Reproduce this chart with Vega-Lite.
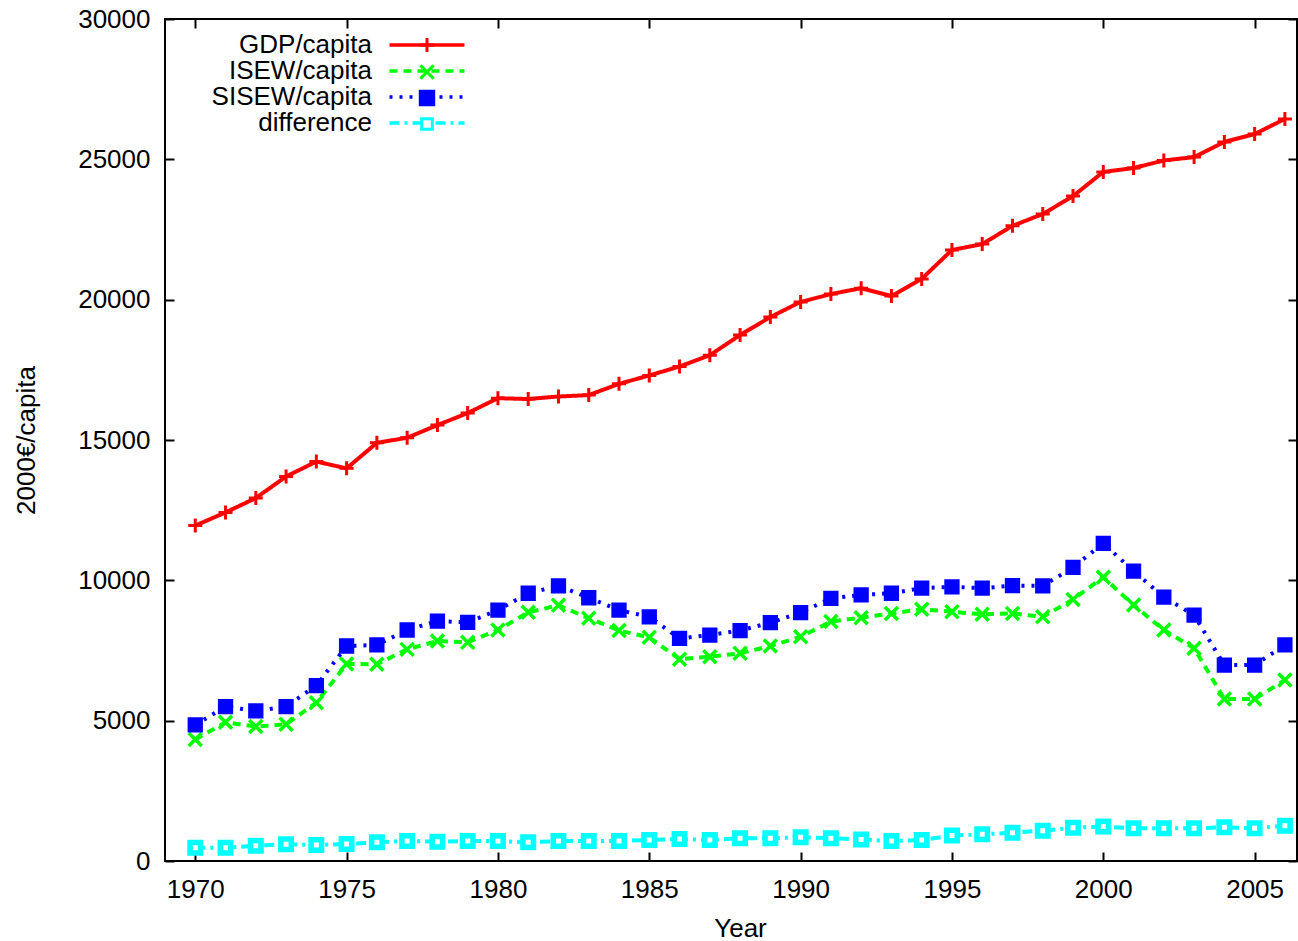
{
  "$schema": "https://vega.github.io/schema/vega-lite/v6.json",
  "width": 1132,
  "height": 842,
  "padding": {"left": 0, "top": 0, "right": 0, "bottom": 0},
  "autosize": {"type": "pad"},
  "background": "white",
  "config": {
    "font": "Liberation Sans",
    "view": {"stroke": "#000000", "strokeWidth": 2},
    "axis": {
      "domain": false, "grid": false,
      "tickColor": "#000000", "tickWidth": 2, "tickSize": -9,
      "labelFont": "Liberation Sans", "labelFontSize": 26, "labelColor": "#000000", "labelPadding": 24,
      "titleFont": "Liberation Sans", "titleFontSize": 26, "titleFontWeight": "normal", "titleColor": "#000000", "titlePadding": 0
    }
  },
  "data": {"values": [
    {"year":1970,"series":"GDP/capita","value":11950},{"year":1971,"series":"GDP/capita","value":12420},{"year":1972,"series":"GDP/capita","value":12930},{"year":1973,"series":"GDP/capita","value":13700},{"year":1974,"series":"GDP/capita","value":14230},{"year":1975,"series":"GDP/capita","value":13990},{"year":1976,"series":"GDP/capita","value":14900},{"year":1977,"series":"GDP/capita","value":15080},{"year":1978,"series":"GDP/capita","value":15530},{"year":1979,"series":"GDP/capita","value":15960},{"year":1980,"series":"GDP/capita","value":16490},{"year":1981,"series":"GDP/capita","value":16460},{"year":1982,"series":"GDP/capita","value":16550},{"year":1983,"series":"GDP/capita","value":16600},{"year":1984,"series":"GDP/capita","value":17000},{"year":1985,"series":"GDP/capita","value":17300},{"year":1986,"series":"GDP/capita","value":17620},{"year":1987,"series":"GDP/capita","value":18020},{"year":1988,"series":"GDP/capita","value":18740},{"year":1989,"series":"GDP/capita","value":19380},{"year":1990,"series":"GDP/capita","value":19920},{"year":1991,"series":"GDP/capita","value":20200},{"year":1992,"series":"GDP/capita","value":20410},{"year":1993,"series":"GDP/capita","value":20130},{"year":1994,"series":"GDP/capita","value":20740},{"year":1995,"series":"GDP/capita","value":21770},{"year":1996,"series":"GDP/capita","value":21980},{"year":1997,"series":"GDP/capita","value":22630},{"year":1998,"series":"GDP/capita","value":23050},{"year":1999,"series":"GDP/capita","value":23690},{"year":2000,"series":"GDP/capita","value":24550},{"year":2001,"series":"GDP/capita","value":24690},{"year":2002,"series":"GDP/capita","value":24960},{"year":2003,"series":"GDP/capita","value":25080},{"year":2004,"series":"GDP/capita","value":25620},{"year":2005,"series":"GDP/capita","value":25900},{"year":2006,"series":"GDP/capita","value":26440},
    {"year":1970,"series":"ISEW/capita","value":4330},{"year":1971,"series":"ISEW/capita","value":4940},{"year":1972,"series":"ISEW/capita","value":4790},{"year":1973,"series":"ISEW/capita","value":4870},{"year":1974,"series":"ISEW/capita","value":5640},{"year":1975,"series":"ISEW/capita","value":7020},{"year":1976,"series":"ISEW/capita","value":7010},{"year":1977,"series":"ISEW/capita","value":7540},{"year":1978,"series":"ISEW/capita","value":7840},{"year":1979,"series":"ISEW/capita","value":7790},{"year":1980,"series":"ISEW/capita","value":8230},{"year":1981,"series":"ISEW/capita","value":8860},{"year":1982,"series":"ISEW/capita","value":9110},{"year":1983,"series":"ISEW/capita","value":8650},{"year":1984,"series":"ISEW/capita","value":8210},{"year":1985,"series":"ISEW/capita","value":7970},{"year":1986,"series":"ISEW/capita","value":7190},{"year":1987,"series":"ISEW/capita","value":7280},{"year":1988,"series":"ISEW/capita","value":7400},{"year":1989,"series":"ISEW/capita","value":7660},{"year":1990,"series":"ISEW/capita","value":7990},{"year":1991,"series":"ISEW/capita","value":8530},{"year":1992,"series":"ISEW/capita","value":8670},{"year":1993,"series":"ISEW/capita","value":8820},{"year":1994,"series":"ISEW/capita","value":8970},{"year":1995,"series":"ISEW/capita","value":8880},{"year":1996,"series":"ISEW/capita","value":8790},{"year":1997,"series":"ISEW/capita","value":8820},{"year":1998,"series":"ISEW/capita","value":8700},{"year":1999,"series":"ISEW/capita","value":9320},{"year":2000,"series":"ISEW/capita","value":10110},{"year":2001,"series":"ISEW/capita","value":9120},{"year":2002,"series":"ISEW/capita","value":8230},{"year":2003,"series":"ISEW/capita","value":7580},{"year":2004,"series":"ISEW/capita","value":5770},{"year":2005,"series":"ISEW/capita","value":5770},{"year":2006,"series":"ISEW/capita","value":6450},
    {"year":1970,"series":"SISEW/capita","value":4850},{"year":1971,"series":"SISEW/capita","value":5500},{"year":1972,"series":"SISEW/capita","value":5350},{"year":1973,"series":"SISEW/capita","value":5500},{"year":1974,"series":"SISEW/capita","value":6250},{"year":1975,"series":"SISEW/capita","value":7660},{"year":1976,"series":"SISEW/capita","value":7700},{"year":1977,"series":"SISEW/capita","value":8230},{"year":1978,"series":"SISEW/capita","value":8550},{"year":1979,"series":"SISEW/capita","value":8500},{"year":1980,"series":"SISEW/capita","value":8940},{"year":1981,"series":"SISEW/capita","value":9540},{"year":1982,"series":"SISEW/capita","value":9800},{"year":1983,"series":"SISEW/capita","value":9380},{"year":1984,"series":"SISEW/capita","value":8940},{"year":1985,"series":"SISEW/capita","value":8700},{"year":1986,"series":"SISEW/capita","value":7930},{"year":1987,"series":"SISEW/capita","value":8050},{"year":1988,"series":"SISEW/capita","value":8210},{"year":1989,"series":"SISEW/capita","value":8490},{"year":1990,"series":"SISEW/capita","value":8850},{"year":1991,"series":"SISEW/capita","value":9360},{"year":1992,"series":"SISEW/capita","value":9480},{"year":1993,"series":"SISEW/capita","value":9540},{"year":1994,"series":"SISEW/capita","value":9720},{"year":1995,"series":"SISEW/capita","value":9770},{"year":1996,"series":"SISEW/capita","value":9720},{"year":1997,"series":"SISEW/capita","value":9810},{"year":1998,"series":"SISEW/capita","value":9800},{"year":1999,"series":"SISEW/capita","value":10460},{"year":2000,"series":"SISEW/capita","value":11320},{"year":2001,"series":"SISEW/capita","value":10330},{"year":2002,"series":"SISEW/capita","value":9400},{"year":2003,"series":"SISEW/capita","value":8760},{"year":2004,"series":"SISEW/capita","value":6980},{"year":2005,"series":"SISEW/capita","value":6980},{"year":2006,"series":"SISEW/capita","value":7700},
    {"year":1970,"series":"difference","value":475},{"year":1971,"series":"difference","value":475},{"year":1972,"series":"difference","value":545},{"year":1973,"series":"difference","value":595},{"year":1974,"series":"difference","value":570},{"year":1975,"series":"difference","value":605},{"year":1976,"series":"difference","value":665},{"year":1977,"series":"difference","value":710},{"year":1978,"series":"difference","value":690},{"year":1979,"series":"difference","value":710},{"year":1980,"series":"difference","value":710},{"year":1981,"series":"difference","value":665},{"year":1982,"series":"difference","value":710},{"year":1983,"series":"difference","value":710},{"year":1984,"series":"difference","value":710},{"year":1985,"series":"difference","value":750},{"year":1986,"series":"difference","value":785},{"year":1987,"series":"difference","value":750},{"year":1988,"series":"difference","value":810},{"year":1989,"series":"difference","value":810},{"year":1990,"series":"difference","value":845},{"year":1991,"series":"difference","value":810},{"year":1992,"series":"difference","value":770},{"year":1993,"series":"difference","value":710},{"year":1994,"series":"difference","value":750},{"year":1995,"series":"difference","value":905},{"year":1996,"series":"difference","value":950},{"year":1997,"series":"difference","value":1010},{"year":1998,"series":"difference","value":1080},{"year":1999,"series":"difference","value":1185},{"year":2000,"series":"difference","value":1225},{"year":2001,"series":"difference","value":1165},{"year":2002,"series":"difference","value":1165},{"year":2003,"series":"difference","value":1165},{"year":2004,"series":"difference","value":1200},{"year":2005,"series":"difference","value":1165},{"year":2006,"series":"difference","value":1260}
  ]},
  "layer": [
    {
      "mark": {"type": "line", "strokeWidth": 4},
      "encoding": {
        "x": {"field": "year", "type": "quantitative",
          "scale": {"domain": [1969, 2006.4], "nice": false, "zero": false},
          "axis": {"orient": "bottom", "values": [1970,1975,1980,1985,1990,1995,2000,2005], "format": "d",
            "title": "Year", "titleX": 575, "titleY": 75, "titleBaseline": "alphabetic", "titleAlign": "center",
            "minExtent": 80, "maxExtent": 80}},
        "y": {"field": "value", "type": "quantitative",
          "scale": {"domain": [0, 30000], "nice": false},
          "axis": {"orient": "left", "values": [0,5000,10000,15000,20000,25000,30000], "format": "d",
            "title": "2000€/capita", "titleX": -131, "titleY": 421, "titleAngle": -90, "titleBaseline": "alphabetic", "titleAlign": "center",
            "minExtent": 165, "maxExtent": 165}},
        "color": {"field": "series", "type": "nominal",
          "scale": {"domain": ["GDP/capita","ISEW/capita","SISEW/capita","difference"], "range": ["#ff0000","#00ff00","#0000ff","#00ffff"]},
          "legend": {"title": null, "orient": "none", "legendX": 249, "legendY": 13, "direction": "vertical", "padding": 0,
            "symbolType": "M-5,0H5", "symbolSize": 225, "symbolStrokeWidth": 3.5,
            "labelAlign": "right", "labelOffset": -68, "labelFontSize": 26, "labelFont": "Liberation Sans", "labelColor": "#000000", "labelLimit": 400, "rowPadding": 0}},
        "strokeDash": {"field": "series", "type": "nominal",
          "scale": {"domain": ["GDP/capita","ISEW/capita","SISEW/capita","difference"], "range": [[1,0],[8,6],[3,7],[10,5,3,5]]},
          "legend": {"title": null, "orient": "none", "legendX": 249, "legendY": 13, "direction": "vertical", "padding": 0,
            "symbolType": "M-5,0H5", "symbolSize": 225, "symbolStrokeWidth": 3.5,
            "labelAlign": "right", "labelOffset": -68, "labelFontSize": 26, "labelFont": "Liberation Sans", "labelColor": "#000000", "labelLimit": 400, "rowPadding": 0}}
      }
    },
    {
      "transform": [{"filter": "datum.series === 'GDP/capita'"}],
      "mark": {"type": "point", "size": 196, "strokeWidth": 3, "opacity": 1},
      "encoding": {
        "x": {"field": "year", "type": "quantitative",
          "axis": {"orient": "top", "values": [1970,1975,1980,1985,1990,1995,2000,2005], "labels": false, "title": null, "minExtent": 19, "maxExtent": 19}},
        "y": {"field": "value", "type": "quantitative",
          "axis": {"orient": "right", "values": [0,5000,10000,15000,20000,25000,30000], "labels": false, "title": null, "minExtent": 1, "maxExtent": 1}},
        "shape": {"field": "series", "type": "nominal",
          "scale": {"range": ["M-1,0H1M0,-1V1", "M-0.93,-0.93L0.93,0.93M-0.93,0.93L0.93,-0.93", "M-0.95,-0.95H0.95V0.95H-0.95Z", "M-0.75,-0.75H0.75V0.75H-0.75Z"]},
          "legend": {"title": null, "orient": "none", "legendX": 249, "legendY": 13, "direction": "vertical", "padding": 0,
            "symbolSize": 200, "symbolStrokeWidth": 3,
            "labelAlign": "right", "labelOffset": -68, "labelFontSize": 26, "labelFont": "Liberation Sans", "labelOpacity": 0, "labelExpr": "' '", "labelLimit": 400, "rowPadding": 0}},
        "stroke": {"field": "series", "type": "nominal",
          "scale": {"range": ["#ff0000","#00ff00","#0000ff","#00ffff"]},
          "legend": {"title": null, "orient": "none", "legendX": 249, "legendY": 13, "direction": "vertical", "padding": 0,
            "symbolSize": 200, "symbolStrokeWidth": 3,
            "labelAlign": "right", "labelOffset": -68, "labelFontSize": 26, "labelFont": "Liberation Sans", "labelOpacity": 0, "labelExpr": "' '", "labelLimit": 400, "rowPadding": 0}},
        "fill": {"field": "series", "type": "nominal",
          "scale": {"range": ["transparent","transparent","#0000ff","#ffffff"]},
          "legend": {"title": null, "orient": "none", "legendX": 249, "legendY": 13, "direction": "vertical", "padding": 0,
            "symbolSize": 200, "symbolStrokeWidth": 3,
            "labelAlign": "right", "labelOffset": -68, "labelFontSize": 26, "labelFont": "Liberation Sans", "labelOpacity": 0, "labelExpr": "' '", "labelLimit": 400, "rowPadding": 0}}
      }
    },
    {
      "transform": [{"filter": "datum.series === 'ISEW/capita'"}],
      "mark": {"type": "point", "size": 196, "strokeWidth": 3.5, "opacity": 1},
      "encoding": {
        "x": {"field": "year", "type": "quantitative", "axis": null},
        "y": {"field": "value", "type": "quantitative", "axis": null},
        "shape": {"field": "series", "type": "nominal"},
        "stroke": {"field": "series", "type": "nominal"},
        "fill": {"field": "series", "type": "nominal"}
      }
    },
    {
      "transform": [{"filter": "datum.series === 'SISEW/capita'"}],
      "mark": {"type": "point", "size": 196, "strokeWidth": 2, "opacity": 1},
      "encoding": {
        "x": {"field": "year", "type": "quantitative", "axis": null},
        "y": {"field": "value", "type": "quantitative", "axis": null},
        "shape": {"field": "series", "type": "nominal"},
        "stroke": {"field": "series", "type": "nominal"},
        "fill": {"field": "series", "type": "nominal"}
      }
    },
    {
      "transform": [{"filter": "datum.series === 'difference'"}],
      "mark": {"type": "point", "size": 196, "strokeWidth": 5.5, "opacity": 1},
      "encoding": {
        "x": {"field": "year", "type": "quantitative", "axis": null},
        "y": {"field": "value", "type": "quantitative", "axis": null},
        "shape": {"field": "series", "type": "nominal"},
        "stroke": {"field": "series", "type": "nominal"},
        "fill": {"field": "series", "type": "nominal"}
      }
    }
  ],
  "resolve": {"axis": {"x": "independent", "y": "independent"}}
}
